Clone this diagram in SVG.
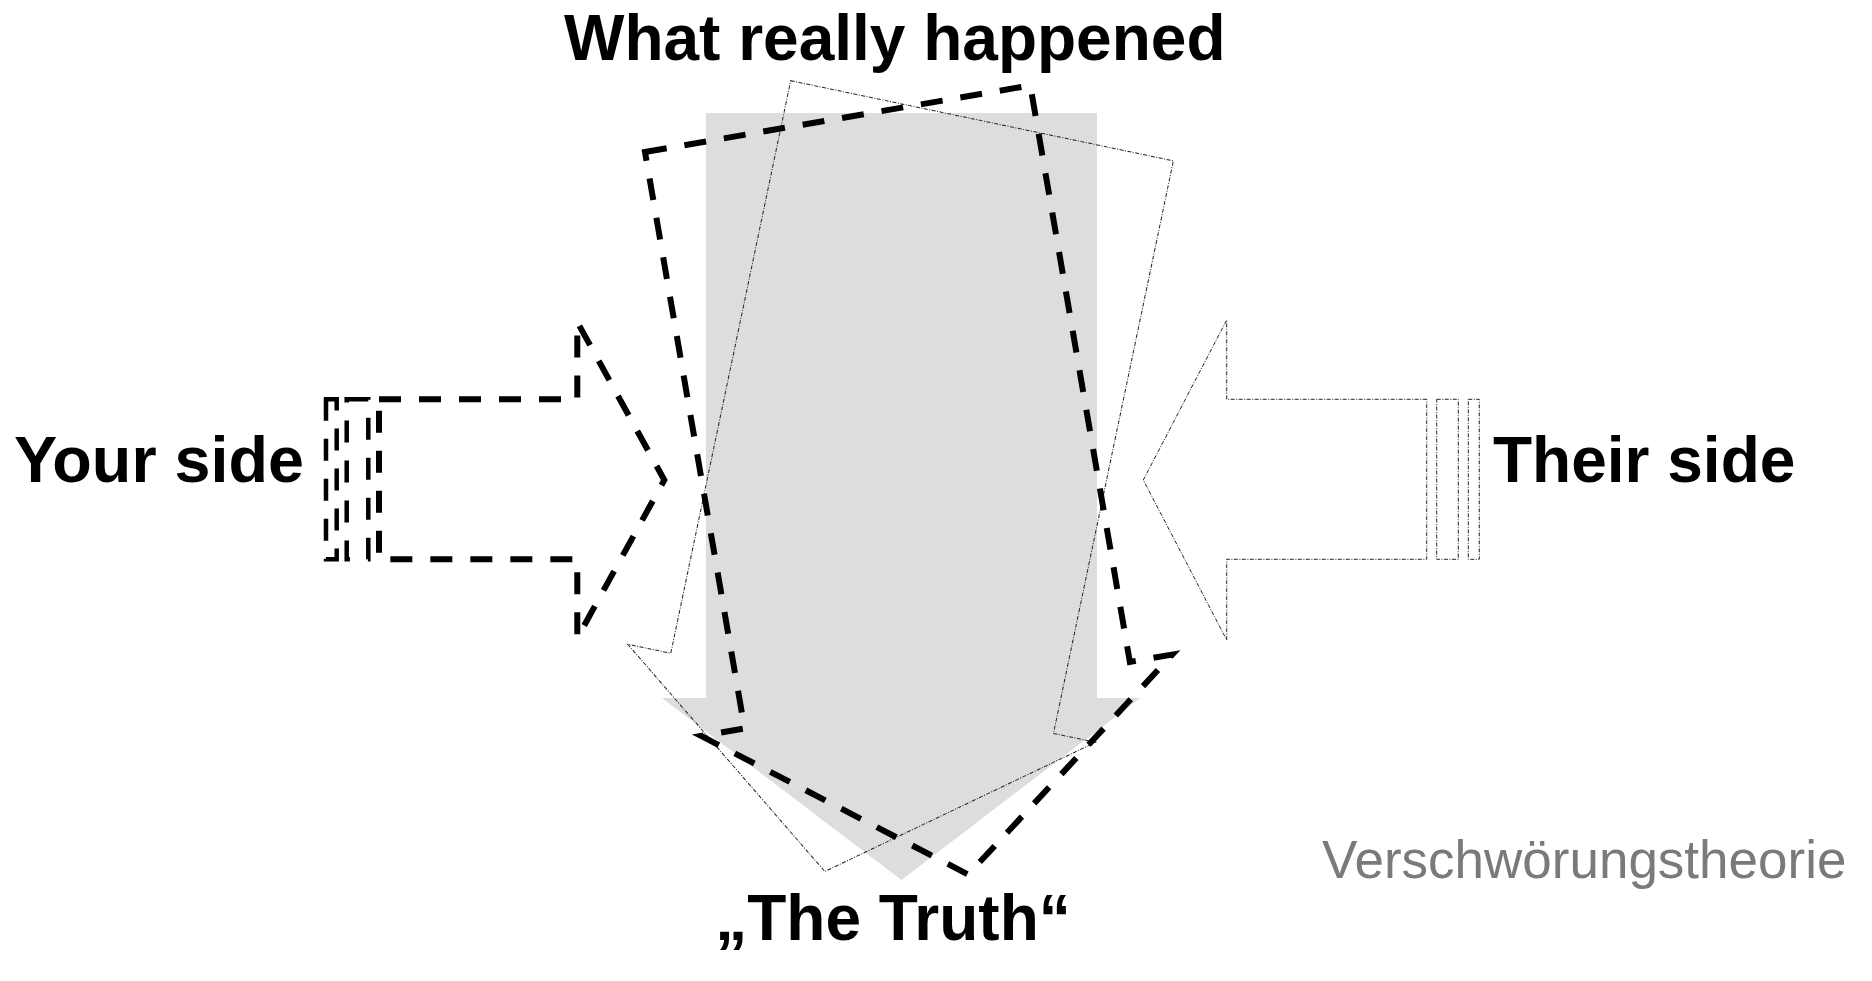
<svg xmlns="http://www.w3.org/2000/svg" width="1872" height="981" viewBox="0 0 1872 981">
<style>
.label{font-family:"Liberation Sans",Arial,sans-serif;font-weight:bold;font-size:64px;fill:#000}
.note{font-family:"Liberation Sans",Arial,sans-serif;font-size:53px;fill:#7a7a7a}
.gray{fill:#dddddd;stroke:none}
.thin{fill:none;stroke:#222;stroke-width:1;stroke-dasharray:4 1.5 1 1.5}
.dash{fill:none;stroke:#000;stroke-width:6;stroke-dasharray:22 18;stroke-linejoin:miter}
.dashbar{fill:none;stroke:#000;stroke-width:4.5;stroke-dasharray:22 18}
</style>
<defs>
<path id="down" d="M706,113 H1097 V698 H1140 L901.5,880 L662,698 H706 Z"/>
</defs>
<rect width="1872" height="981" fill="#fff"/>
<g id="what-really-happened">
<use href="#down" class="gray"/>
<text class="label" x="564" y="60">What really happened</text>
</g>
<g id="thin-rotated-arrow">
<use href="#down" class="thin" transform="translate(790.7,80.7) rotate(11.83) translate(-706,-113)"/>
</g>
<g id="dashed-rotated-arrow">
<use href="#down" class="dash" transform="translate(645,152) rotate(-9.8) translate(-706,-113)"/>
</g>
<g id="your-side">
<path class="dash" d="M379,399.3 H577.3 V322 L664.3,480 L577.3,638 V559.3 H379 Z"/>
<rect class="dashbar" x="346.7" y="399.3" width="21.6" height="160"/>
<rect class="dashbar" x="326" y="399.3" width="10.7" height="160"/>
<text class="label" x="14" y="482" textLength="290" lengthAdjust="spacingAndGlyphs">Your side</text>
</g>
<g id="their-side">
<path class="thin" d="M1426.7,399.3 H1226.7 V320 L1143.3,480 L1226.7,640 V559.3 H1426.7 Z"/>
<rect class="thin" x="1436.7" y="399.3" width="21.6" height="160"/>
<rect class="thin" x="1468.3" y="399.3" width="11" height="160"/>
<text class="label" x="1493" y="482">Their side</text>
</g>
<g id="the-truth">
<text class="label" x="893" y="940" text-anchor="middle">„The Truth“</text>
</g>
<g id="theory-label">
<text class="note" x="1322" y="878">Verschwörungstheorie</text>
</g>
</svg>
